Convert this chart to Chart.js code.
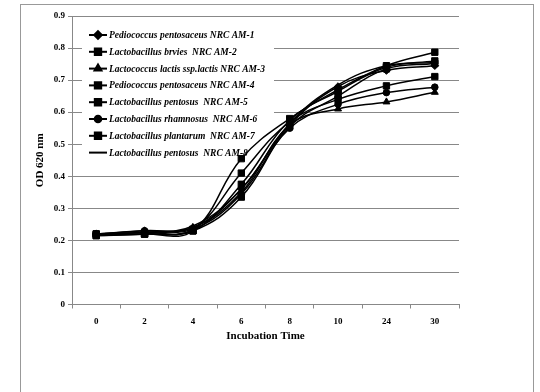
<!DOCTYPE html>
<html>
<head>
<meta charset="utf-8">
<script src="https://cdn.jsdelivr.net/npm/chart.js@4.4.1/dist/chart.umd.min.js"></script>
<style>
html,body{margin:0;padding:0;background:#fff;}
canvas{display:block;}
</style>
</head>
<body>
<canvas id="c" width="540" height="392"></canvas>
<script>
const categories = ['0', '2', '4', '6', '8', '10', '24', '30'];
const seriesNames = [
  'Pediococcus pentosaceus NRC AM-1',
  'Lactobacillus brvies  NRC AM-2',
  'Lactococcus lactis ssp.lactis NRC AM-3',
  'Pediococcus pentosaceus NRC AM-4',
  'Lactobacillus pentosus  NRC AM-5',
  'Lactobacillus rhamnosus  NRC AM-6',
  'Lactobacillus plantarum  NRC AM-7',
  'Lactobacillus pentosus  NRC AM-8'
];
const am1 = [0.220, 0.230, 0.240, 0.360, 0.560, 0.680, 0.730, 0.745];
const am2 = [0.220, 0.220, 0.230, 0.455, 0.580, 0.670, 0.745, 0.787];
const am3 = [0.220, 0.225, 0.240, 0.350, 0.560, 0.610, 0.632, 0.662];
const am4 = [0.215, 0.220, 0.235, 0.410, 0.570, 0.640, 0.682, 0.711];
const am5 = [0.220, 0.225, 0.230, 0.375, 0.575, 0.665, 0.740, 0.760];
const am6 = [0.220, 0.230, 0.235, 0.345, 0.550, 0.625, 0.661, 0.678];
const am7 = [0.215, 0.220, 0.230, 0.335, 0.555, 0.650, 0.735, 0.752];
const am8 = [0.220, 0.225, 0.245, 0.360, 0.565, 0.685, 0.745, 0.755];
const yTicks = [0, 0.1, 0.2, 0.3, 0.4, 0.5, 0.6, 0.7, 0.8, 0.9];

const seriesValues = [am1, am2, am3, am4, am5, am6, am7, am8];
const markerStyles = ['rectRot', 'rect', 'triangle', 'rect', 'rect', 'circle', 'rect', 'line'];
const markerSizes = [3.8, 4.5, 4, 4.5, 4.5, 3.3, 4.5, 0];

const SERIF = '"Liberation Serif", "Times New Roman", serif';

const datasets = seriesValues.map((vals, i) => ({
  label: seriesNames[i],
  data: vals,
  borderColor: '#000',
  backgroundColor: '#000',
  borderWidth: 1.5,
  pointStyle: markerStyles[i] === 'line' ? 'circle' : markerStyles[i],
  pointRadius: markerSizes[i],
  pointBorderWidth: 1,
  pointBackgroundColor: '#000',
  pointBorderColor: '#000',
  tension: 0.4,
  fill: false
}));

const frame = {
  id: 'frame',
  beforeDraw(chart) {
    const ctx = chart.ctx;
    ctx.save();
    ctx.fillStyle = '#fff';
    ctx.fillRect(0, 0, chart.width, chart.height);
    ctx.strokeStyle = '#999';
    ctx.lineWidth = 1;
    ctx.strokeRect(20.5, 4.5, 513, 420);
    ctx.restore();
  }
};

const legendBox = {
  id: 'legendBox',
  beforeDatasetsDraw(chart) {
    const ctx = chart.ctx;
    ctx.save();
    ctx.fillStyle = '#fff';
    ctx.fillRect(82, 24, 192, 138);
    const x0 = 89, x1 = 107, mx = 98, tx = 109;
    ctx.font = 'italic bold 9.5px ' + SERIF;
    ctx.textBaseline = 'middle';
    ctx.textAlign = 'left';
    seriesNames.forEach((name, i) => {
      const y = 35 + i * 16.8;
      ctx.strokeStyle = '#000';
      ctx.lineWidth = 2;
      ctx.beginPath();
      ctx.moveTo(x0, y);
      ctx.lineTo(x1, y);
      ctx.stroke();
      if (markerStyles[i] !== 'line' && Chart.helpers && Chart.helpers.drawPoint) {
        ctx.fillStyle = '#000';
        Chart.helpers.drawPoint(ctx, {pointStyle: markerStyles[i], radius: markerSizes[i], rotation: 0, borderWidth: 1}, mx, y);
      }
      ctx.fillStyle = '#000';
      ctx.fillText(name, tx, y + 0.5);
    });
    ctx.restore();
  }
};

new Chart(document.getElementById('c'), {
  type: 'line',
  data: { labels: categories, datasets },
  plugins: [frame, legendBox],
  options: {
    responsive: false,
    animation: false,
    events: [],
    layout: { padding: { left: 0, right: 81, top: 16, bottom: 0 } },
    plugins: { legend: { display: false }, tooltip: { enabled: false } },
    scales: {
      x: {
        type: 'category',
        offset: true,
        grid: { display: true, drawOnChartArea: false, offset: true, tickLength: 4, color: '#888', lineWidth: 1 },
        border: { display: true, color: '#888', width: 1 },
        ticks: { color: '#000', padding: 8, font: { family: SERIF, size: 9, weight: 'bold' }, maxRotation: 0 },
        title: { display: true, text: 'Incubation Time', color: '#000', font: { family: SERIF, size: 11, weight: 'bold' }, padding: { top: 0, bottom: 49 } },
        afterFit(scale) { scale.height = 87.5; }
      },
      y: {
        min: 0,
        max: 0.9,
        afterBuildTicks(scale) { scale.ticks = yTicks.map(v => ({ value: v })); },
        grid: { color: '#888', lineWidth: 1, tickLength: 4 },
        border: { display: true, color: '#888', width: 1 },
        ticks: {
          color: '#000', padding: 3,
          font: { family: SERIF, size: 9, weight: 'bold' },
          callback: v => String(Math.round(v * 10) / 10)
        },
        title: { display: true, text: 'OD 620 nm', color: '#000', font: { family: SERIF, size: 11, weight: 'bold' }, padding: { top: 34, bottom: 0 } },
        afterFit(scale) { scale.width = 72; }
      }
    }
  }
});
</script>
</body>
</html>
